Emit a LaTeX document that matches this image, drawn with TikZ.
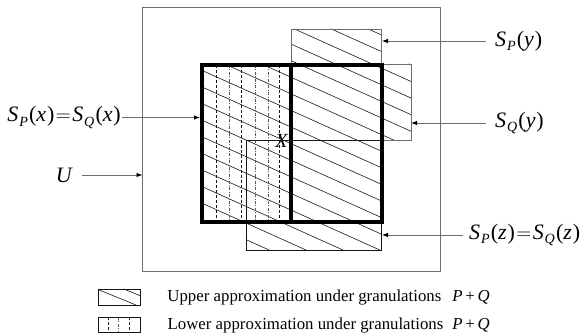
\documentclass[tikz,border=0pt]{standalone}
\usepackage{fontspec}
\usepackage{graphicx}
\setmainfont{Liberation Serif}
\usetikzlibrary{arrows.meta,positioning,calc}
\definecolor{edge}{HTML}{6E6E6E}
\definecolor{ink}{HTML}{151515}
\newcommand{\gran}[2]{\textit{S}\kern0.8pt\raisebox{-0.2em}{\scalebox{0.64}{\textit{#1}}}\kern1.3pt\textup{(}\textit{#2}\kern0.8pt\textup{)}}
\newcommand{\graneq}{\kern1.5pt$=$\kern1.5pt}
\tikzset{
  >={Latex[length=6pt,width=4.5pt,color=black]},
  frame/.style={draw=edge,line width=0.9pt},
  gbox/.style={draw=edge,line width=0.8pt},
  kbox/.style={draw=black,line width=4pt},
  hatch/.style={draw=ink,line width=0.6pt},
  lowa/.style={draw=ink,line width=0.6pt,dash pattern=on 3pt off 2pt},
  lowb/.style={draw=ink!70,line width=0.6pt,dash pattern=on 3pt off 1.5pt on 0.8pt off 1.5pt},
  lab/.style={font=\fontsize{22}{25}\selectfont,inner sep=0pt},
  leg/.style={font=\fontsize{16.8}{19}\selectfont,inner sep=0pt,anchor=east},
  arr/.style={->,draw=edge,line width=0.9pt,shorten <=9pt},
}

\begin{document}
\begin{tikzpicture}[x=1pt,y=-1pt]
\useasboundingbox (0,0) rectangle (582,336);
% universe U
\draw[frame] (142.5,7) rectangle (440,271);
% upper approximation, hatched
\begin{scope}
  \clip (202,65) rectangle (381.5,221.7) (291,29) rectangle (381.5,65)
        (291,64) rectangle (411,140) (246.7,140) rectangle (381.5,250);
  \foreach \k in {-9,...,13}{
    \draw[hatch] (140,{42.5+16.6*\k}) -- (420,{168.5+16.6*\k});
  }
\end{scope}
% lower approximation
\foreach \x/\s in {216/lowa,229/lowb,241.7/lowa,255/lowb,268/lowb,279/lowa}{
  \draw[\s] (\x,65) -- (\x,221.7);
}
% granules
\draw[gbox] (291,29) rectangle (381.5,65);
\draw[gbox] (291,64) rectangle (411,140);
\draw[gbox,draw=ink] (246.7,140) rectangle (381.5,250);
\draw[kbox] (202,65) rectangle (381.5,221.7);
\draw[kbox,line width=3.5pt] (291,65) -- (291,221.7);
\node[font=\fontsize{20}{22}\selectfont\itshape,inner sep=0pt] (xpt) at (281.5,141) {X};

% labels and arrows
\coordinate (px) at (200,117.5);
\coordinate (pu) at (142.5,175);
\coordinate (py) at (382,41);
\coordinate (qy) at (411,123);
\coordinate (pz) at (382,235);
\node[lab,anchor=east] (spx) at (121,117.5) {\gran{P}{x}\graneq\gran{Q}{x}};
\node[lab,anchor=east,font=\fontsize{22}{25}\selectfont\itshape] (su) at (72,175) {U};
\node[lab,anchor=west] (spy) at (495,41) {\gran{P}{y}};
\node[lab,anchor=west] (sqy) at (495,123) {\gran{Q}{y}};
\node[lab,anchor=west] (spz) at (469,235) {\gran{P}{z}\graneq\gran{Q}{z}};
\draw[arr,shorten <=1pt] (spx.east) -- (px);
\draw[arr,shorten <=10pt] (su.east) -- (pu);
\draw[arr] (spy.west) -- (py);
\draw[arr] (sqy.west) -- (qy);
\draw[arr,shorten <=6pt] (spz.west) -- (pz);

% legend
\begin{scope}
  \clip (98,289) rectangle (140,305);
  \draw[hatch] (98,289.5) -- (136,305);
  \draw[hatch] (124,289) -- (142,296.5);
\end{scope}
\draw[draw=ink,line width=0.8pt] (98,289) rectangle (140,305);
\foreach \x/\s in {108/lowa,118/lowb,129/lowa}{
  \draw[\s] (\x,317) -- (\x,332);
}
\draw[draw=ink,line width=0.8pt] (98,317) rectangle (140,332);
\node[leg] (lup) at (490,297) {Upper approximation under granulations\hspace{11pt}\textit{P}\,+\,\textit{Q}};
\node[leg] (llow) at (490,325) {Lower approximation under granulations\hspace{9pt}\textit{P}\,+\,\textit{Q}};
\end{tikzpicture}
\end{document}
